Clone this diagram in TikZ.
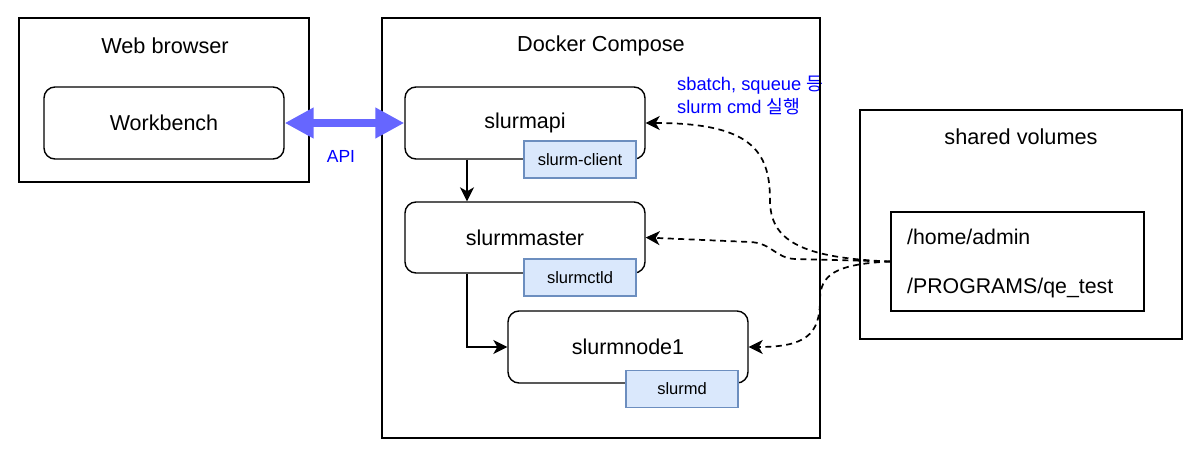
\documentclass[tikz,border=0pt]{standalone}
\usepackage{fontspec}
\setmainfont{Liberation Sans}
\newfontfamily\kr{Noto Sans CJK KR}
\usetikzlibrary{arrows.meta}
\definecolor{apiblue}{RGB}{102,102,255}
\definecolor{tagfill}{RGB}{218,232,252}
\definecolor{tagline}{RGB}{108,142,191}
\begin{document}
\begin{tikzpicture}[x=1pt,y=-1pt,
  container/.style={draw,line width=1.4pt,minimum width=#1,inner sep=0},
  rbox/.style={draw,line width=1.4pt,rounded corners=11pt,minimum width=240pt,minimum height=72pt,inner sep=0,font=\fontsize{21.5}{25}\selectfont},
  tag/.style={draw=tagline,fill=tagfill,line width=1.2pt,minimum width=112pt,minimum height=37pt,inner sep=0,font=\fontsize{16.5}{20}\selectfont},
  title/.style={font=\fontsize{21.7}{25}\selectfont,inner sep=0},
  arr/.style={line width=1.4pt,-{Stealth[length=14pt,width=14pt,inset=4pt]}},
  darr/.style={line width=1.7pt,dash pattern=on 6pt off 4.5pt,-{Stealth[length=14pt,width=14pt,inset=4pt]}},
  blue/.style={text=blue,font=\fontsize{18.3}{22}\selectfont,inner sep=0,anchor=west}
]
\useasboundingbox (0,0) rectangle (1200,458);
% labels
\node[text=blue,font=\fontsize{17.5}{20}\selectfont,inner sep=0] (apil) at (341,156) {API};
\node[blue] (cmd1) at (677,85) {sbatch, squeue {\kr 등}};
\node[blue] (cmd2) at (677,107) {slurm cmd {\kr 실행}};
% containers
\node[container=290pt,minimum height=164pt] (web) at (164,100) {};
\node[container=438pt,minimum height=420pt] (docker) at (601,228) {};
\node[container=322pt,minimum height=229pt] (shared) at (1021,224.5) {};
\node[title] (webt) at (165,46) {Web browser};
\node[title] (dockt) at (601,46) {Docker Compose};
\node[title] (sharedt) at (1021,137) {shared volumes};
% inner volumes box
\node[container=253pt,minimum height=99pt] (vol) at (1017.5,261.5) {};
\node[font=\fontsize{21.3}{24}\selectfont,inner sep=0,anchor=west] (home) at (907,237) {/home/admin};
\node[font=\fontsize{21.3}{24}\selectfont,inner sep=0,anchor=west] (prog) at (907,288) {/PROGRAMS/qe\_test};
% rounded boxes
\node[rbox] (wb) at (164,123) {Workbench};
\node[rbox] (api) at (525,123) {slurmapi};
\node[rbox,minimum height=71pt] (master) at (525,237.5) {slurmmaster};
\node[rbox] (node1) at (628,347) {slurmnode1};
% tags
\node[tag] (client) at (580,159.5) {slurm-client};
\node[tag] (ctld) at (580,277.5) {slurmctld};
\node[tag] (slurmd) at (682,389) {slurmd};
% API double arrow
\draw[apiblue,line width=8.5pt,{Triangle[length=29pt,width=29pt]}-{Triangle[length=29pt,width=29pt]}] (wb.east) -- (api.west);
% solid arrows
\draw[arr] (api.south -| 467,0) -- (master.north -| 467,0);
\coordinate (bend) at (467,347);
\draw[arr] (master.south -| 467,0) -- (bend) -- (node1.west);
% dashed curves
\draw[darr] (vol.west) .. controls (800,258) and (770,240) .. (770,200)
   .. controls (770,150) and (750,123) .. (api.east);
\draw[darr] (vol.west) -- (795,259) .. controls (775,258) and (772,243) .. (750,242)
   -- (master.east);
\draw[darr] (vol.west) .. controls (835,264) and (820,275) .. (820,300)
   .. controls (820,335) and (805,347) .. (node1.east);
\end{tikzpicture}
\end{document}
